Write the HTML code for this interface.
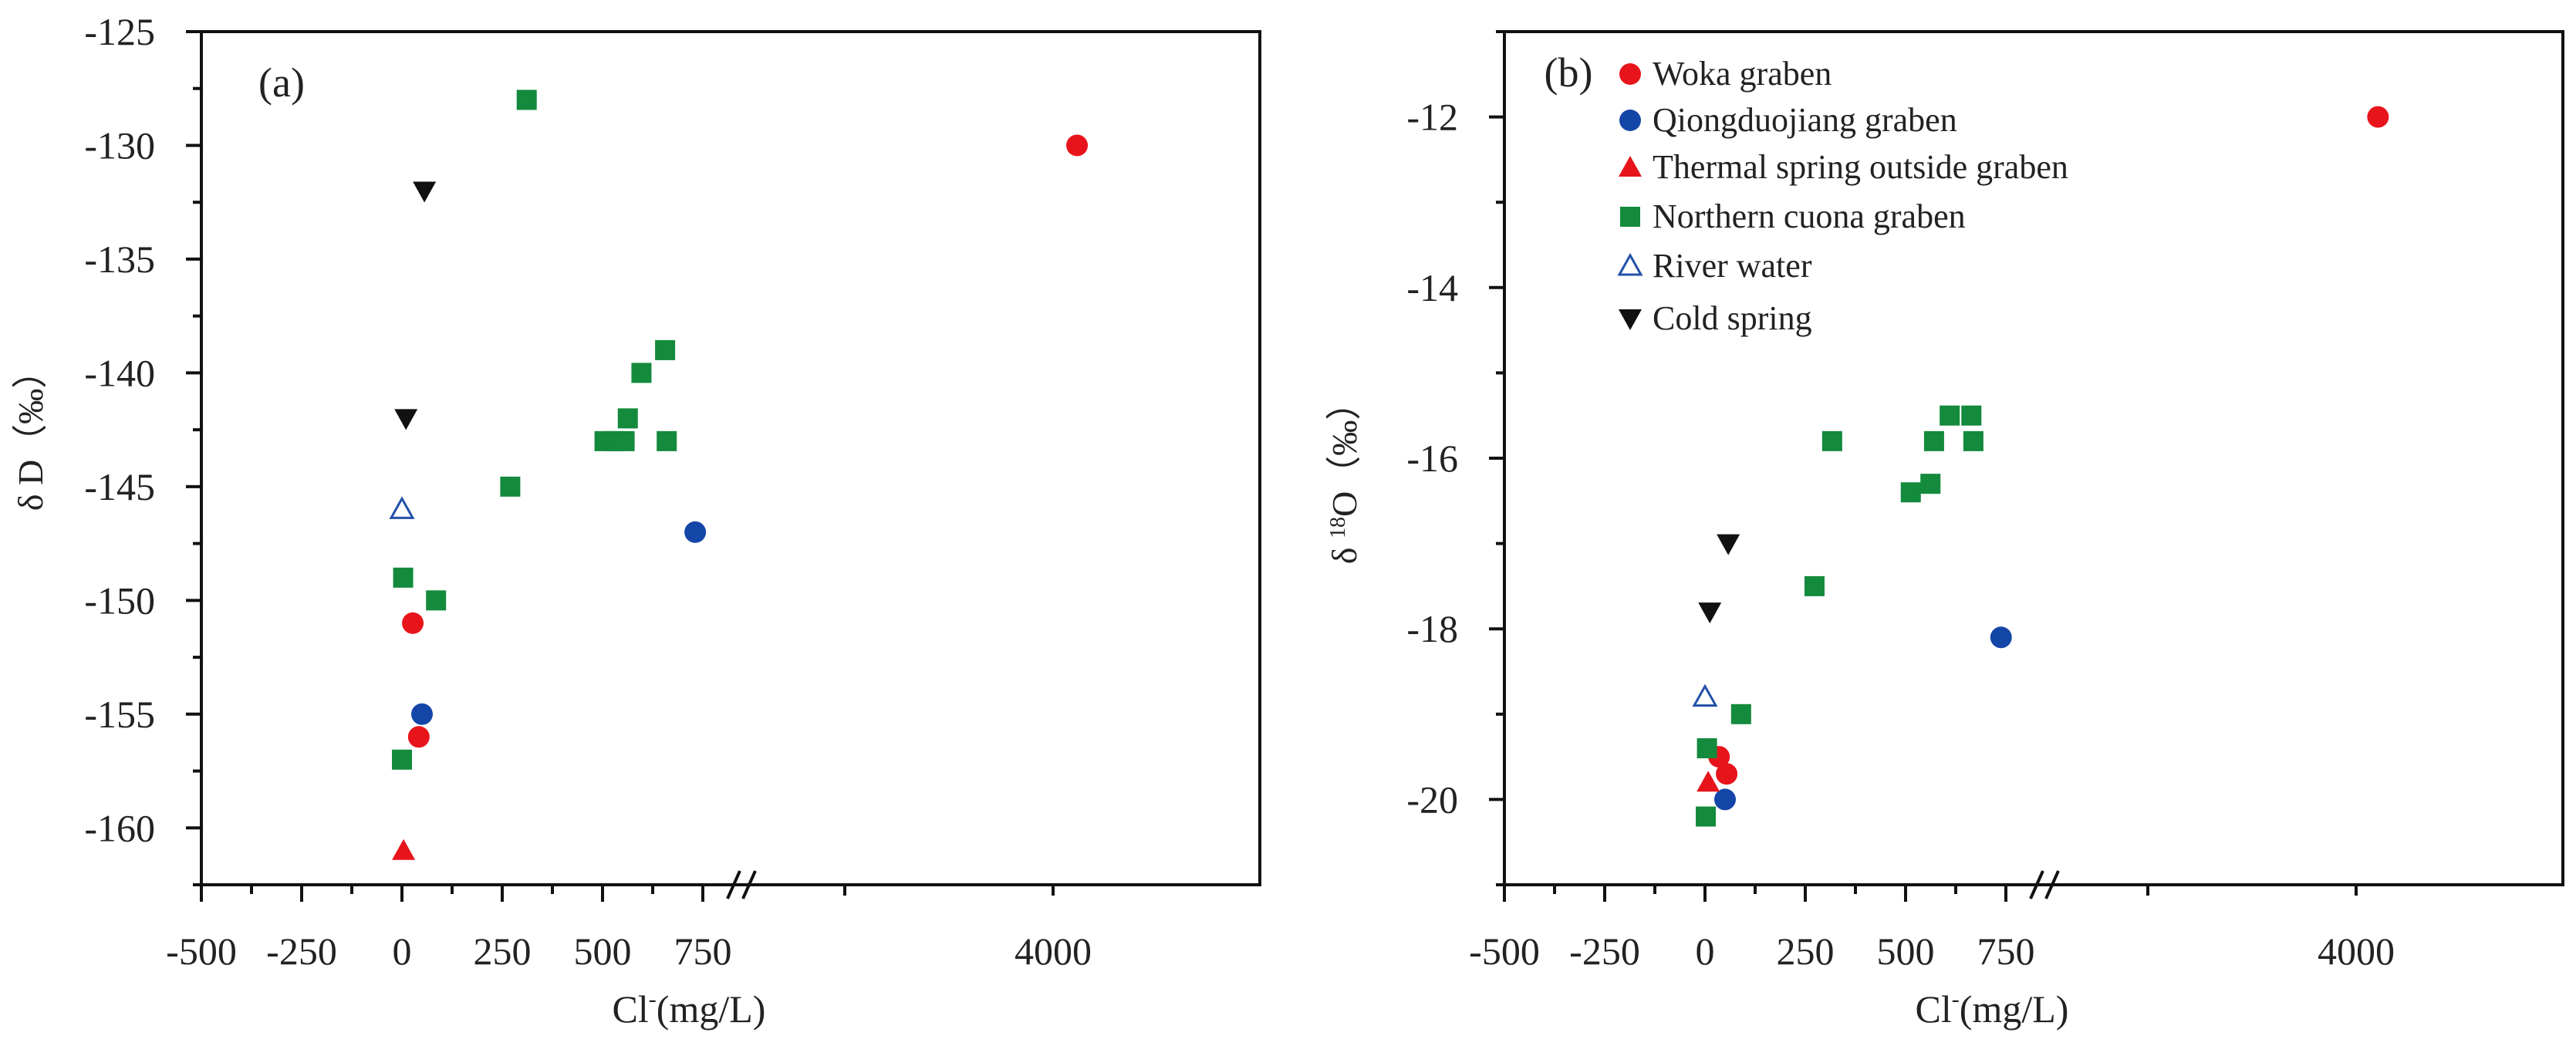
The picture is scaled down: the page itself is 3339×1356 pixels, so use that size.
<!DOCTYPE html>
<html><head><meta charset="utf-8"><style>
html,body{margin:0;padding:0;background:#fff;}
svg{display:block;font-family:"Liberation Serif",serif;}
</style></head><body>
<svg id="chart" width="3339" height="1356" viewBox="0 0 3339 1356" xmlns="http://www.w3.org/2000/svg">
<rect width="3339" height="1356" fill="#fff"/>
</svg>
<script>
// ---- data ----
const xTickValues = [-500, -250, 0, 250, 500, 750, 4000];
const xTickLabels = ["-500", "-250", "0", "250", "500", "750", "4000"];
const yTicksA = [-125, -130, -135, -140, -145, -150, -155, -160];
const yTicksB = [-12, -14, -16, -18, -20];
const seriesNames = ["Woka graben", "Qiongduojiang graben", "Thermal spring outside graben", "Northern cuona graben", "River water", "Cold spring"];
// panel a (δD)
const wokaA_x = [4115, 27, 42];
const wokaA_y = [-130, -151, -156];
const qiongA_x = [731, 50];
const qiongA_y = [-147, -155];
const thermalA_x = [4];
const thermalA_y = [-161];
const cuonaA_x = [311, 270, 3, 85, 0, 597, 656, 563, 505, 530, 555, 660];
const cuonaA_y = [-128, -145, -149, -150, -157, -140, -139, -142, -143, -143, -143, -143];
const riverA_x = [0];
const riverA_y = [-146];
const coldA_x = [56, 10];
const coldA_y = [-132, -142];
// panel b (δ18O)
const wokaB_x = [4105, 35, 54];
const wokaB_y = [-12, -19.5, -19.7];
const qiongB_x = [738, 50];
const qiongB_y = [-18.1, -20.0];
const thermalB_x = [8];
const thermalB_y = [-19.8];
const cuonaB_x = [317, 610, 664, 571, 669, 513, 562, 273, 90, 5, 2];
const cuonaB_y = [-15.8, -15.5, -15.5, -15.8, -15.8, -16.4, -16.3, -17.5, -19.0, -19.4, -20.2];
const riverB_x = [0];
const riverB_y = [-18.8];
const coldB_x = [58, 12];
const coldB_y = [-17.0, -17.8];

const NS = "http://www.w3.org/2000/svg";
const svg = document.getElementById("chart");
function mk(tag, attrs, parent) {
  const e = document.createElementNS(NS, tag);
  for (const k in attrs) e.setAttribute(k, attrs[k]);
  (parent || svg).appendChild(e);
  return e;
}

function makePanel(cfg) {
  const L = cfg.left, T = 41, B = 1147, R = cfg.left + 1372;
  const g = mk("g", {});
  
  
  const xs = v => v <= 800 ? L + (v + 500) * 0.52 : L + 1104 + (v - 4000) * 0.27;
  const ys = v => T + (cfg.yMax - v) / (cfg.yMax - cfg.yMin) * (B - T);
  const frame = mk("rect", {x: L, y: T, width: R - L, height: B - T, fill: "none", stroke: "#111", "stroke-width": 4}, g);
  
  
  for (let v = cfg.yMax; v >= cfg.yMin - 1e-9; v -= cfg.yMinor) {
    const major = cfg.yTicks.some(t => Math.abs(t - v) < 1e-6);
    const tk = mk("line", {x1: L - (major ? 20 : 11), x2: L, y1: ys(v), y2: ys(v), stroke: "#111", "stroke-width": 4}, g);
    
    
  }
  cfg.yTicks.forEach(v => {
    const t = mk("text", {x: L - 60, y: ys(v) + 17, "text-anchor": "end", "font-size": 50, fill: "#222"}, g);
    t.textContent = String(v);
    
    
  });
  for (let v = -500; v <= 750; v += 125) {
    const major = v % 250 === 0;
    const tk = mk("line", {x1: xs(v), x2: xs(v), y1: B, y2: B + (major ? 22 : 12), stroke: "#111", "stroke-width": 4}, g);
    
    
  }
  [3000, 4000].forEach(v => {
    const tk = mk("line", {x1: xs(v), x2: xs(v), y1: B, y2: B + 14, stroke: "#111", "stroke-width": 4}, g);
    
    
  });
  xTickValues.forEach((v, i) => {
    const t = mk("text", {x: xs(v), y: B + 103, "text-anchor": "middle", "font-size": 50, fill: "#222"}, g);
    t.textContent = xTickLabels[i];
    
    
  });
  const bx = L + 690;
  [0, 20].forEach(d => {
    const s = mk("line", {x1: bx + d - 8, y1: B + 18, x2: bx + d + 8, y2: B - 18, stroke: "#111", "stroke-width": 4}, g);
    
    
  });
  const xt = mk("text", {x: L + 632, y: B + 178, "text-anchor": "middle", "font-size": 50, fill: "#222"}, g);
  xt.innerHTML = 'Cl<tspan font-size="30" dy="-20">-</tspan><tspan dy="20">(mg/L)</tspan>';
  
  
  const yt = mk("text", {x: 0, y: 0, "text-anchor": "middle", "font-size": 46, fill: "#222", transform: `translate(${cfg.ytX},${cfg.ytY}) rotate(-90)`}, g);
  yt.innerHTML = cfg.yTitle;
  
  
  const pl = mk("text", {x: cfg.plX, y: cfg.plY, "text-anchor": "middle", "font-size": 54, fill: "#222"}, g);
  pl.textContent = cfg.label;
  
  
  cfg.series.forEach(s => {
    s.xs.forEach((xv, i) => {
      const px = xs(xv), py = ys(s.ys[i]);
      const m = drawMarker(s.type, px, py, g);
      
      
    });
  });
  return g;
}

function drawMarker(type, x, y, g) {
  if (type === "woka") return mk("circle", {cx: x, cy: y, r: 14, fill: "#e8141b"}, g);
  if (type === "qiong") return mk("circle", {cx: x, cy: y, r: 14, fill: "#1446a8"}, g);
  if (type === "cuona") return mk("rect", {x: x - 13, y: y - 13, width: 26, height: 26, fill: "#138a3c"}, g);
  if (type === "thermal") return mk("polygon", {points: `${x},${y - 15} ${x - 15},${y + 12} ${x + 15},${y + 12}`, fill: "#e8141b"}, g);
  if (type === "river") return mk("polygon", {points: `${x},${y - 14} ${x - 14},${y + 11} ${x + 14},${y + 11}`, fill: "none", stroke: "#2450a8", "stroke-width": 3}, g);
  return mk("polygon", {points: `${x - 15},${y - 12} ${x + 15},${y - 12} ${x},${y + 15}`, fill: "#111"}, g);
}

makePanel({
  name: "panel-a-deuterium", left: 261, yMax: -125, yMin: -162.5, yMinor: 2.5, yTicks: yTicksA,
  yTitle: 'δ D（‰）', ytX: 55, ytY: 560, label: "(a)", plX: 365, plY: 125,
  series: [
    {id: "woka", type: "woka", xs: wokaA_x, ys: wokaA_y},
    {id: "qiongduojiang", type: "qiong", xs: qiongA_x, ys: qiongA_y},
    {id: "thermal", type: "thermal", xs: thermalA_x, ys: thermalA_y},
    {id: "cuona", type: "cuona", xs: cuonaA_x, ys: cuonaA_y},
    {id: "river", type: "river", xs: riverA_x, ys: riverA_y},
    {id: "cold", type: "cold", xs: coldA_x, ys: coldA_y}
  ]
});
makePanel({
  name: "panel-b-oxygen18", left: 1950, yMax: -11, yMin: -21, yMinor: 1, yTicks: yTicksB,
  yTitle: 'δ <tspan font-size="28" dy="-15">18</tspan><tspan dy="15">O（‰）</tspan>', ytX: 1758, ytY: 615, label: "(b)", plX: 2033, plY: 112,
  series: [
    {id: "woka", type: "woka", xs: wokaB_x, ys: wokaB_y},
    {id: "qiongduojiang", type: "qiong", xs: qiongB_x, ys: qiongB_y},
    {id: "thermal", type: "thermal", xs: thermalB_x, ys: thermalB_y},
    {id: "cuona", type: "cuona", xs: cuonaB_x, ys: cuonaB_y},
    {id: "river", type: "river", xs: riverB_x, ys: riverB_y},
    {id: "cold", type: "cold", xs: coldB_x, ys: coldB_y}
  ]
});

const legend = mk("g", {});


const legTypes = ["woka", "qiong", "thermal", "cuona", "river", "cold"];
const legY = [96, 156, 217, 281, 345, 413];
seriesNames.forEach((n, i) => {
  const eg = mk("g", {}, legend);
  
  
  drawMarker(legTypes[i], 2113, legY[i], eg);
  const t = mk("text", {x: 2142, y: legY[i] + 14, "font-size": 44, fill: "#222"}, eg);
  t.textContent = n;
});
</script>
</body></html>
